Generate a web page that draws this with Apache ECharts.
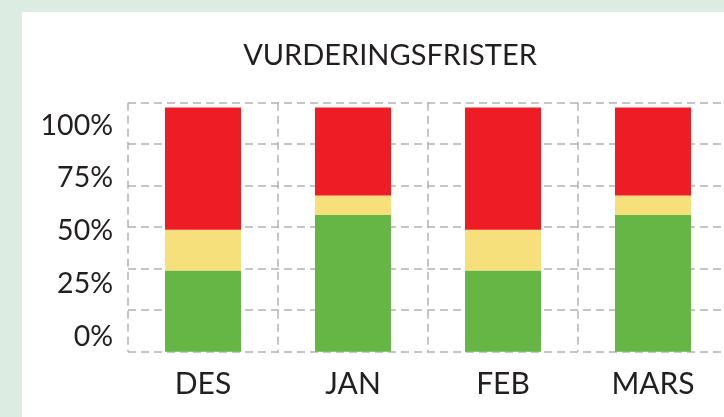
<!DOCTYPE html>
<html>
<head>
<meta charset="utf-8">
<script src="https://cdn.jsdelivr.net/npm/echarts@6/dist/echarts.min.js"></script>
<style>
  html, body { margin: 0; padding: 0; width: 724px; height: 417px; overflow: hidden; background: #ddece3; position: relative; }
  #card { position: absolute; left: 22px; top: 12px; width: 720px; height: 420px; background: #ffffff; }
  #chart { position: absolute; left: 0; top: 0; width: 760px; height: 417px; }
</style>
</head>
<body>
<div id="card"></div>
<div id="chart"></div>
<script>
const titleText = 'VURDERINGSFRISTER';
const categories = ['DES', 'JAN', 'FEB', 'MARS'];
const greenValues = [33.3, 56, 33.3, 56];
const yellowValues = [16.7, 8, 16.7, 8];
const redValues = [50, 36, 50, 36];
const yTickValues = [0, 25, 50, 75, 100];

const FONT = 'Lato';
const TEXT = '#231f20';
const GRID_LINE = { show: true, lineStyle: { color: '#b3b3b3', width: 1.5, type: [8, 5] } };

const chart = echarts.init(document.getElementById('chart'), null, { renderer: 'canvas' });
chart.setOption({
  backgroundColor: 'transparent',
  animation: false,
  title: {
    text: titleText,
    left: 385,
    top: 36,
    textAlign: 'center',
    textStyle: { fontFamily: FONT, fontSize: 29, fontWeight: 'normal', color: TEXT }
  },
  grid: { left: 128, top: 102.7, width: 600, height: 249, containLabel: false },
  xAxis: {
    type: 'category',
    data: categories,
    boundaryGap: true,
    axisLine: { show: false },
    axisTick: { show: false },
    splitLine: GRID_LINE,
    axisLabel: { fontFamily: FONT, fontSize: 30, color: TEXT, margin: 18 }
  },
  yAxis: [
    {
      type: 'value',
      min: 0,
      max: 102,
      interval: 17,
      axisLine: { show: false },
      axisTick: { show: false },
      axisLabel: { show: false },
      splitLine: GRID_LINE
    },
    {
      type: 'value',
      position: 'left',
      min: -7.2,
      max: 110.75,
      axisLine: { show: false },
      axisTick: { show: false },
      splitLine: { show: false },
      axisLabel: {
        customValues: yTickValues,
        formatter: '{value}%',
        fontFamily: FONT,
        fontSize: 28.5,
        color: TEXT,
        margin: 15
      }
    }
  ],
  series: [
    { name: 'green', type: 'bar', stack: 'a', yAxisIndex: 0, barWidth: 76, data: greenValues, itemStyle: { color: '#66b646' } },
    { name: 'yellow', type: 'bar', stack: 'a', yAxisIndex: 0, barWidth: 76, data: yellowValues, itemStyle: { color: '#f5e07b' } },
    { name: 'red', type: 'bar', stack: 'a', yAxisIndex: 0, barWidth: 76, data: redValues, itemStyle: { color: '#ee1d25' } }
  ]
});
</script>
</body>
</html>
